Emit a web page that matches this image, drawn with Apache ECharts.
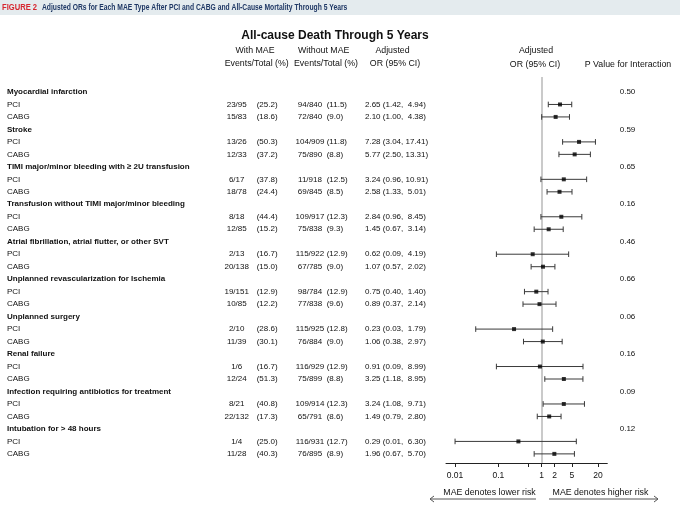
<!DOCTYPE html>
<html><head><meta charset="utf-8">
<script src="https://cdn.jsdelivr.net/npm/echarts@6/dist/echarts.min.js"></script>
<style>html,body{margin:0;padding:0;background:#fff}#c{width:680px;height:510px}</style>
</head><body><div id="c"></div>
<script>
const outcomes = ['Myocardial infarction','Stroke','TIMI major/minor bleeding with \u2265 2U transfusion','Transfusion without TIMI major/minor bleeding','Atrial fibrillation, atrial flutter, or other SVT','Unplanned revascularization for Ischemia','Unplanned surgery','Renal failure','Infection requiring antibiotics for treatment','Intubation for > 48 hours'];
const pInteraction = ['0.50','0.59','0.65','0.16','0.46','0.66','0.06','0.16','0.09','0.12'];
const strategies = ['PCI','CABG'];
const withMAE = ['23/95','15/83','13/26','12/33','6/17','18/78','8/18','12/85','2/13','20/138','19/151','10/85','2/10','11/39','1/6','12/24','8/21','22/132','1/4','11/28'];
const withMAEPct = [25.2,18.6,50.3,37.2,37.8,24.4,44.4,15.2,16.7,15.0,12.9,12.2,28.6,30.1,16.7,51.3,40.8,17.3,25.0,40.3];
const withoutMAE = ['94/840','72/840','104/909','75/890','11/918','69/845','109/917','75/838','115/922','67/785','98/784','77/838','115/925','76/884','116/929','75/899','109/914','65/791','116/931','76/895'];
const withoutMAEPct = [11.5,9.0,11.8,8.8,12.5,8.5,12.3,9.3,12.9,9.0,12.9,9.6,12.8,9.0,12.9,8.8,12.3,8.6,12.7,8.9];
const orEst = [2.65,2.10,7.28,5.77,3.24,2.58,2.84,1.45,0.62,1.07,0.75,0.89,0.23,1.06,0.91,3.25,3.24,1.49,0.29,1.96];
const orLow = [1.42,1.00,3.04,2.50,0.96,1.33,0.96,0.67,0.09,0.57,0.40,0.37,0.03,0.38,0.09,1.18,1.08,0.79,0.01,0.67];
const orHigh = [4.94,4.38,17.41,13.31,10.91,5.01,8.45,3.14,4.19,2.02,1.40,2.14,1.79,2.97,8.99,8.95,9.71,2.80,6.30,5.70];
const xTicks = [0.01,0.1,0.5,1,2,5,20];
const xTickLabels = [0.01,0.1,1,2,5,20];

const FF = '"Liberation Sans", Arial, sans-serif';
const rows = [];
outcomes.forEach((name, i) => {
  rows.push({h: true, label: name, p: pInteraction[i]});
  strategies.forEach((s, j) => rows.push({h: false, label: s, k: i * 2 + j}));
});
const tableData = rows.map((r, idx) => [1, idx]);
const ciData = [], ptData = [];
rows.forEach((r, idx) => {
  if (!r.h) { ciData.push([orLow[r.k], orHigh[r.k], idx]); ptData.push([orEst[r.k], idx]); }
});
function fmtOR(k) {
  const hi = orHigh[k];
  return orEst[k].toFixed(2) + ' (' + orLow[k].toFixed(2) + ', ' + (hi < 10 ? ' ' : '') + hi.toFixed(2) + ')';
}
function txt(text, x, y, align, font, fill) {
  return {type: 'text', x: x, y: y, style: {text: text, align: align, textAlign: align, verticalAlign: 'middle', textVerticalAlign: 'middle', font: font, fill: fill || '#111'}};
}
const dataFont = '8px ' + FF, boldFont = 'bold 8px ' + FF;
const fig = txt('FIGURE 2', 2, 7.5, 'left', 'bold 9.5px ' + FF, '#d7262f');
fig.scaleX = 0.8;
const figTitle = txt('Adjusted ORs for Each MAE Type After PCI and CABG and All-Cause Mortality Through 5 Years', 42, 7.5, 'left', 'bold 9.5px ' + FF, '#1e3764');
figTitle.scaleX = 0.71;

const chart = echarts.init(document.getElementById('c'), null, {renderer: 'canvas'});
chart.setOption({
  animation: false,
  backgroundColor: '#fff',
  grid: {left: 446, right: 72.7, top: 77, height: 386},
  xAxis: {
    type: 'log', logBase: 10, min: 0.00618, max: 32.7,
    axisLine: {show: true, onZero: false, lineStyle: {color: '#222', width: 1}},
    axisTick: {show: true, customValues: xTicks, length: 4, lineStyle: {color: '#222'}},
    minorTick: {show: false}, splitLine: {show: false},
    axisLabel: {customValues: xTickLabels, formatter: v => String(+(+v).toPrecision(2)), fontSize: 8.5, fontFamily: FF, color: '#111', margin: 8}
  },
  yAxis: {type: 'value', inverse: true, min: -1.2, max: 29.73, show: false},
  graphic: [
    {type: 'rect', shape: {x: 0, y: 0, width: 680, height: 15}, style: {fill: '#e4ebee'}},
    fig, figTitle,
    txt('All-cause Death Through 5 Years', 335, 35.5, 'center', 'bold 12px ' + FF, '#111'),
    txt('With MAE', 255, 50.5, 'center', '8.8px ' + FF),
    txt('Events/Total (%)', 256.7, 64, 'center', '8.8px ' + FF),
    txt('Without MAE', 323.7, 50.5, 'center', '8.8px ' + FF),
    txt('Events/Total (%)', 326, 64, 'center', '8.8px ' + FF),
    txt('Adjusted', 392.5, 50.5, 'center', '8.8px ' + FF),
    txt('OR (95% CI)', 395, 64, 'center', '8.8px ' + FF),
    txt('Adjusted', 536, 51, 'center', '8.8px ' + FF),
    txt('OR (95% CI)', 535, 64.5, 'center', '8.8px ' + FF),
    txt('P Value for Interaction', 628, 64.5, 'center', '8.8px ' + FF),
    txt('MAE denotes lower risk', 489.5, 493, 'center', '8.8px ' + FF),
    txt('MAE denotes higher risk', 600.5, 493, 'center', '8.8px ' + FF),
    {type: 'polyline', shape: {points: [[434, 496], [430, 499], [536, 499]]}, style: {stroke: '#555', lineWidth: 1, fill: null}},
    {type: 'polyline', shape: {points: [[549, 499], [658, 499], [654, 496]]}, style: {stroke: '#555', lineWidth: 1, fill: null}},
    {type: 'line', shape: {x1: 430, y1: 499, x2: 434, y2: 502}, style: {stroke: '#555', lineWidth: 1}},
    {type: 'line', shape: {x1: 658, y1: 499, x2: 654, y2: 502}, style: {stroke: '#555', lineWidth: 1}}
  ],
  series: [
    {
      type: 'custom', name: 'table', coordinateSystem: 'cartesian2d', clip: false, silent: true,
      encode: {x: 0, y: 1}, data: tableData, z: 5,
      renderItem: function (params, api) {
        const idx = api.value(1);
        const r = rows[idx];
        const y = api.coord([1, idx])[1];
        const ch = [];
        if (r.h) {
          ch.push(txt(r.label, 7, y, 'left', boldFont));
          ch.push(txt(r.p, 627.5, y, 'center', dataFont));
        } else {
          const k = r.k;
          ch.push(txt(r.label, 7, y, 'left', dataFont));
          ch.push(txt(withMAE[k], 236.7, y, 'center', dataFont));
          ch.push(txt('(' + withMAEPct[k].toFixed(1) + ')', 256.7, y, 'left', dataFont));
          ch.push(txt(withoutMAE[k], 310, y, 'center', dataFont));
          ch.push(txt('(' + withoutMAEPct[k].toFixed(1) + ')', 326.7, y, 'left', dataFont));
          ch.push(txt(fmtOR(k), 365, y, 'left', dataFont));
        }
        return {type: 'group', children: ch};
      }
    },
    {
      type: 'custom', name: 'ci', coordinateSystem: 'cartesian2d', clip: false, silent: true,
      encode: {x: [0, 1], y: 2}, data: ciData, z: 3,
      renderItem: function (params, api) {
        const row = api.value(2);
        const a = api.coord([api.value(0), row]);
        const b = api.coord([api.value(1), row]);
        const h = 2.8, st = {stroke: '#3a3a3a', lineWidth: 1};
        return {type: 'group', children: [
          {type: 'line', shape: {x1: a[0], y1: a[1], x2: b[0], y2: b[1]}, style: st},
          {type: 'line', shape: {x1: a[0], y1: a[1] - h, x2: a[0], y2: a[1] + h}, style: st},
          {type: 'line', shape: {x1: b[0], y1: b[1] - h, x2: b[0], y2: b[1] + h}, style: st}
        ]};
      },
      markLine: {
        silent: true, symbol: ['none', 'none'], label: {show: false}, z: 1,
        lineStyle: {color: '#b8b8b8', width: 1.5, type: 'solid'},
        data: [{xAxis: 1}]
      }
    },
    {
      type: 'scatter', name: 'OR', data: ptData, symbol: 'rect', symbolSize: 4, z: 4, silent: true,
      itemStyle: {color: '#000'}
    }
  ]
});
</script></body></html>
